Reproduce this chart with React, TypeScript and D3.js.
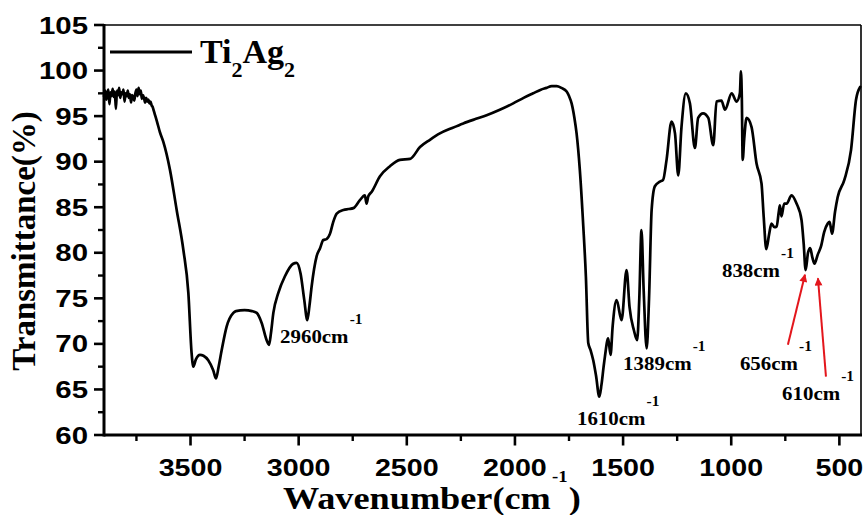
import React from "react";
import * as d3 from "d3";

// ---- data ----
const wavenumbers: number[] = [
  3900, 3895, 3890, 3885, 3880, 3875, 3870, 3865, 3860, 3855, 3850, 3845, 3840, 3835, 3830, 3825,
  3820, 3815, 3810, 3805, 3800, 3795, 3790, 3785, 3780, 3775, 3770, 3765, 3760, 3755, 3750, 3745,
  3740, 3735, 3730, 3725, 3720, 3715, 3710, 3705, 3700, 3695, 3690, 3685, 3680, 3675, 3670, 3665,
  3655, 3641, 3626, 3595, 3564, 3533, 3510, 3495, 3487, 3475, 3456, 3440, 3418, 3395, 3382, 3370,
  3356, 3333, 3302, 3290, 3250, 3216, 3194, 3171, 3148, 3137, 3128, 3117, 3094, 3064, 3025, 3010,
  2991, 2974, 2960, 2950, 2940, 2917, 2901, 2886, 2871, 2855, 2840, 2824, 2793, 2770, 2747, 2716,
  2694, 2686, 2678, 2662, 2624, 2578, 2532, 2485, 2439, 2393, 2347, 2290, 2239, 2180, 2131, 2070,
  2008, 1960, 1916, 1880, 1854, 1830, 1807, 1785, 1761, 1750, 1738, 1725, 1715, 1700, 1684, 1672,
  1661, 1650, 1638, 1625, 1610, 1600, 1590, 1584, 1569, 1558, 1548, 1530, 1507, 1484, 1470, 1450,
  1435, 1425, 1415, 1405, 1391, 1380, 1368, 1353, 1330, 1315, 1299, 1276, 1260, 1245, 1230, 1210,
  1191, 1168, 1153, 1130, 1106, 1083, 1068, 1045, 1029, 998, 975, 960, 955, 951, 947, 940,
  929, 906, 883, 860, 850, 838, 825, 814, 800, 790, 780, 775, 768, 755, 744, 721,
  698, 675, 665, 656, 645, 635, 625, 615, 600, 585, 570, 554, 545, 534, 520, 508,
  477, 446, 423, 404,
];
const transmittance: number[] = [
  97.2, 97.8, 96.8, 97.5, 97.9, 96.3, 97.6, 97.2, 98.0, 97.1, 97.7, 95.8, 97.8, 97.3, 98.1, 97.0,
  97.6, 97.4, 97.9, 96.6, 97.5, 97.2, 97.8, 97.0, 97.4, 96.5, 97.3, 97.1, 96.7, 97.5, 97.9, 97.2,
  98.1, 97.4, 97.8, 96.9, 97.3, 97.0, 96.5, 97.0, 96.6, 96.8, 96.4, 96.6, 96.2, 96.0, 95.6, 95.2,
  94.4, 93.2, 92.2, 89.1, 84.7, 80.3, 75.6, 69.0, 67.5, 68.3, 68.8, 68.7, 68.2, 67.1, 66.2, 67.5,
  69.3, 71.9, 73.4, 73.6, 73.7, 73.6, 73.4, 72.3, 70.4, 69.9, 71.2, 73.4, 75.6, 77.4, 78.8, 78.9,
  77.7, 74.8, 72.6, 74.2, 76.3, 79.6, 80.5, 81.4, 81.5, 82.1, 83.4, 84.3, 84.7, 84.8, 84.9, 85.8,
  86.3, 85.4, 86.2, 86.7, 88.4, 89.5, 90.2, 90.3, 91.6, 92.4, 93.1, 93.7, 94.2, 94.7, 95.1, 95.7,
  96.4, 97.0, 97.5, 97.9, 98.1, 98.3, 98.3, 98.1, 97.7, 97.2, 96.4, 94.8, 93.1, 89.1, 82.9, 77.4,
  70.1, 69.3, 68.2, 66.5, 64.2, 65.5, 67.5, 68.6, 70.6, 68.8, 72.0, 74.8, 72.6, 78.1, 74.0, 71.5,
  70.4, 75.0, 82.5, 76.0, 69.5, 75.0, 84.7, 87.3, 87.8, 88.0, 90.2, 94.4, 93.1, 88.5, 93.8, 97.5,
  96.4, 91.5, 94.8, 95.3, 94.8, 91.8, 96.6, 96.7, 95.7, 97.5, 96.6, 97.5, 99.9, 97.0, 90.2, 92.5,
  94.8, 93.8, 89.8, 87.6, 84.0, 80.4, 82.0, 83.2, 82.8, 82.9, 84.5, 85.2, 84.0, 85.4, 85.4, 86.3,
  85.4, 83.6, 81.0, 78.1, 80.0, 80.5, 79.5, 78.8, 79.8, 80.7, 82.3, 83.2, 83.4, 82.1, 84.5, 86.1,
  88.0, 91.3, 96.8, 98.2,
];

const seriesName = "Ti";
const xMajorTicks: number[] = [3500, 3000, 2500, 2000, 1500, 1000, 500];
const xMinorTicks: number[] = [3750, 3250, 2750, 2250, 1750, 1250, 750];
const yMajorTicks: number[] = [60, 65, 70, 75, 80, 85, 90, 95, 100, 105];
const yMinorTicks: number[] = [62.5, 67.5, 72.5, 77.5, 82.5, 87.5, 92.5, 97.5, 102.5];

// peak annotations: label text, anchor (left, baseline) in data units
const peakLabels: string[] = ["2960", "1610", "1389", "838", "656", "610"];
const peakLabelX: number[] = [3086, 1713, 1500, 1043, 960, 765];
const peakLabelY: number[] = [70.1, 61.1, 67.1, 77.3, 67.1, 63.8];

// red arrows (data units): from -> to
const arrowFromX: number[] = [738, 562];
const arrowFromY: number[] = [69.9, 66.4];
const arrowToX: number[] = [659, 599];
const arrowToY: number[] = [77.6, 77.2];

const W = 868;
const H = 515;
const serif = "'Liberation Serif', 'Times New Roman', Times, serif";
const sans = "'Liberation Sans', Arial, Helvetica, sans-serif";

export default function App() {
  const x = d3.scaleLinear().domain([3900, 400]).range([104, 861]);
  const y = d3.scaleLinear().domain([60, 105]).range([435, 25]);

  const data = wavenumbers.map((w, i) => ({ w, t: transmittance[i] }));
  const line = d3
    .line<{ w: number; t: number }>()
    .x((d) => x(d.w))
    .y((d) => y(d.t))
    .curve(d3.curveMonotoneX);

  const x0 = x.range()[0];
  const x1 = x.range()[1];
  const yB = y.range()[0];
  const yT = y.range()[1];

  return (
    <svg
      width={W}
      height={H}
      style={{ position: "absolute", left: 0, top: 0, background: "#fff" }}
    >
      <defs>
        <marker
          id="redhead"
          viewBox="0 0 10 10"
          refX="9"
          refY="5"
          markerWidth="5"
          markerHeight="4"
          orient="auto"
          markerUnits="strokeWidth"
        >
          <path d="M0,0 L10,5 L0,10 z" fill="#e3161c" />
        </marker>
      </defs>
      <rect x={0} y={0} width={W} height={H} fill="#fff" />

      {/* frame */}
      <line x1={x0} x2={x1} y1={yT} y2={yT} stroke="#000" strokeWidth={1.6} />
      <line x1={x1} x2={x1} y1={yT} y2={yB} stroke="#000" strokeWidth={1.6} />
      <line x1={x0} x2={x1 + 1} y1={yB} y2={yB} stroke="#000" strokeWidth={3} />
      <line x1={x0} x2={x0} y1={yT - 1} y2={yB + 1.5} stroke="#000" strokeWidth={3} />

      {/* y ticks */}
      {yMajorTicks.map((v) => (
        <g key={"ym" + v}>
          <line x1={x0 - 10} x2={x0} y1={y(v)} y2={y(v)} stroke="#000" strokeWidth={2.6} />
          <text
            transform={`translate(88,${y(v) + 8.6}) scale(1.2,1)`}
            textAnchor="end"
            fontFamily={sans}
            fontWeight="bold"
            fontSize={24.5}
          >
            {v}
          </text>
        </g>
      ))}
      {yMinorTicks.map((v) => (
        <line key={"yn" + v} x1={x0 - 6} x2={x0} y1={y(v)} y2={y(v)} stroke="#000" strokeWidth={2.4} />
      ))}

      {/* x ticks */}
      {xMajorTicks.map((v) => (
        <g key={"xm" + v}>
          <line x1={x(v)} x2={x(v)} y1={yB} y2={yB + 10.5} stroke="#000" strokeWidth={2.6} />
          <text
            transform={`translate(${x(v)},476) scale(1.17,1)`}
            textAnchor="middle"
            fontFamily={sans}
            fontWeight="bold"
            fontSize={24.5}
          >
            {v}
          </text>
        </g>
      ))}
      {xMinorTicks.map((v) => (
        <line key={"xn" + v} x1={x(v)} x2={x(v)} y1={yB} y2={yB + 6} stroke="#000" strokeWidth={2.4} />
      ))}

      {/* axis titles */}
      <text
        transform={`translate(35,241) rotate(-90)`}
        textAnchor="middle"
        fontFamily={serif}
        fontWeight="bold"
        fontSize={33}
      >
        Transmittance(%)
      </text>
      <text
        transform={`translate(283,509) scale(1.17,1)`}
        fontFamily={serif}
        fontWeight="bold"
        fontSize={31}
      >
        Wavenumber(cm
        <tspan dx={1} dy={-27} fontSize={16}>
          -1
        </tspan>
        <tspan dx={1} dy={27} fontSize={31}>
          )
        </tspan>
      </text>

      {/* spectrum */}
      <path
        d={line(data) || ""}
        fill="none"
        stroke="#000"
        strokeWidth={2.7}
        strokeLinejoin="round"
        strokeLinecap="round"
      />

      {/* legend */}
      <line x1={110} x2={192} y1={52} y2={52} stroke="#000" strokeWidth={3} />
      <text x={200} y={63} fontFamily={serif} fontWeight="bold" fontSize={34}>
        {seriesName}
        <tspan dy={14} fontSize={22}>
          2
        </tspan>
        <tspan dy={-14} fontSize={34}>
          Ag
        </tspan>
        <tspan dy={14} fontSize={22}>
          2
        </tspan>
      </text>

      {/* peak annotations */}
      {peakLabels.map((p, i) => {
        const lx = x(peakLabelX[i]);
        const ly = y(peakLabelY[i]);
        return (
          <text
            key={"pk" + p}
            transform={`translate(${lx},${ly}) scale(1.1,1)`}
            fontFamily={serif}
            fontWeight="bold"
            fontSize={19}
          >
            {p}cm
            <tspan dx={1} dy={-19} fontSize={14}>
              -1
            </tspan>
          </text>
        );
      })}

      {/* red arrows */}
      {arrowFromX.map((fx, i) => (
        <line
          key={"ar" + i}
          x1={x(fx)}
          y1={y(arrowFromY[i])}
          x2={x(arrowToX[i])}
          y2={y(arrowToY[i])}
          stroke="#e3161c"
          strokeWidth={2}
          markerEnd="url(#redhead)"
        />
      ))}
    </svg>
  );
}
